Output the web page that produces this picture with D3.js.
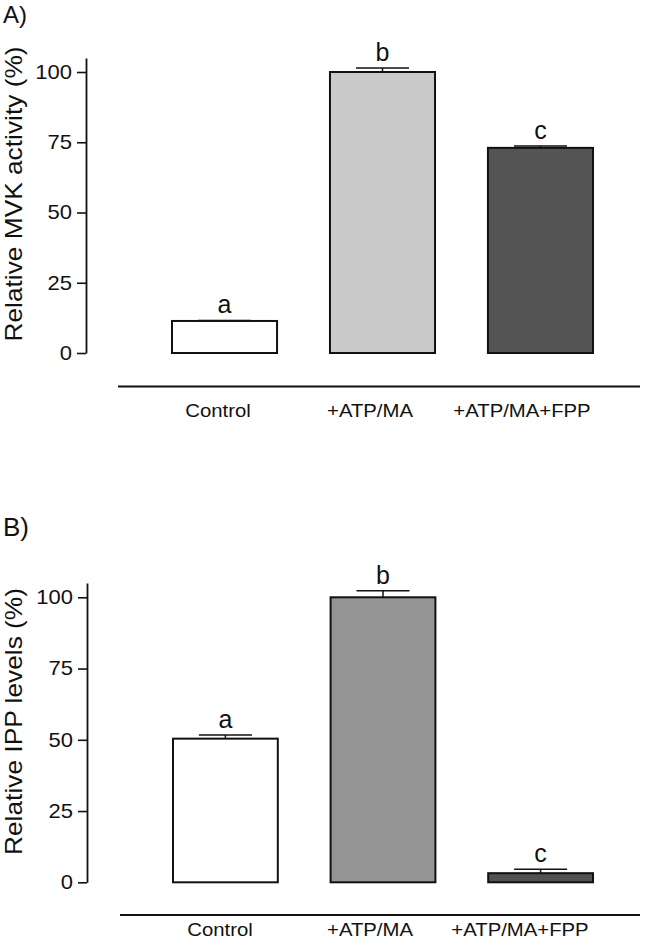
<!DOCTYPE html>
<html>
<head>
<meta charset="utf-8">
<script src="https://cdn.jsdelivr.net/npm/d3@7"></script>
<style>
  html, body { margin: 0; padding: 0; background: #fff; }
  svg { display: block; font-family: "Liberation Sans", Arial, sans-serif; }
</style>
</head>
<body>
<svg id="chart" width="646" height="947"></svg>
<script>
// ---- data ----
const categories = ["Control", "+ATP/MA", "+ATP/MA+FPP"];
const yTicks = [0, 25, 50, 75, 100];

const mvkActivity = [11.4, 100, 73];
const mvkError = [0.2, 1.4, 0.7];
const mvkLetters = ["a", "b", "c"];
const mvkColors = ["#ffffff", "#c9c9c9", "#545454"];

const ippLevels = [50.4, 100, 3.2];
const ippError = [1.3, 2.3, 1.4];
const ippLetters = ["a", "b", "c"];
const ippColors = ["#ffffff", "#959595", "#525252"];

const svg = d3.select("#chart");

function drawPanel(opt) {
  const g = svg.append("g");
  const y = d3.scaleLinear().domain([0, 105]).range([opt.y0, opt.y0 - 105 * opt.pxPerUnit]);
  const x = d3.scaleBand().domain(categories).range([opt.barX0, opt.barX1])
    .paddingInner(0.335).paddingOuter(0);
  const xl = d3.scalePoint().domain(categories).range([opt.labX0, opt.labX1]);

  // panel tag
  g.append("text").attr("x", 3).attr("y", opt.tagY)
    .attr("font-size", opt.tagSize).attr("fill", "#111").text(opt.tag);

  // y axis
  const ax = g.append("g").attr("transform", `translate(${opt.axisX},0)`)
    .call(d3.axisLeft(y).tickValues(yTicks).tickSize(9).tickSizeOuter(0).tickPadding(5));
  ax.select(".domain").attr("stroke", "#111").attr("stroke-width", 1.8);
  ax.selectAll(".tick line").attr("stroke", "#111").attr("stroke-width", 1.6);
  ax.selectAll(".tick text")
    .attr("font-size", 20).attr("fill", "#111")
    .attr("font-family", '"Liberation Sans", Arial, sans-serif')
    .each(function () {
      const t = d3.select(this);
      const xx = +t.attr("x");
      t.attr("x", xx / 1.1).attr("transform", "scale(1.1,1)");
    });

  // y label
  g.append("text")
    .attr("transform", `translate(${opt.ylabX},${opt.ylabY}) rotate(-90)`)
    .attr("text-anchor", "middle").attr("font-size", 24).attr("fill", "#111")
    .attr("textLength", opt.ylabLen).attr("lengthAdjust", "spacingAndGlyphs")
    .text(opt.ylabel);

  const data = categories.map((c, i) => ({
    c, v: opt.values[i], e: opt.errors[i], l: opt.letters[i], col: opt.colors[i]
  }));

  // bars
  g.selectAll("rect.bar").data(data).join("rect").attr("class", "bar")
    .attr("x", d => x(d.c)).attr("width", x.bandwidth())
    .attr("y", d => y(d.v)).attr("height", d => y(0) - y(d.v))
    .attr("fill", d => d.col).attr("stroke", "#111").attr("stroke-width", 2);

  // error bars
  const capW = 53;
  g.selectAll("line.err").data(data).join("line").attr("class", "err")
    .attr("x1", d => x(d.c) + x.bandwidth() / 2).attr("x2", d => x(d.c) + x.bandwidth() / 2)
    .attr("y1", d => y(d.v)).attr("y2", d => y(d.v + d.e))
    .attr("stroke", "#111").attr("stroke-width", 1.5);
  g.selectAll("line.cap").data(data).join("line").attr("class", "cap")
    .attr("x1", d => x(d.c) + x.bandwidth() / 2 - capW / 2)
    .attr("x2", d => x(d.c) + x.bandwidth() / 2 + capW / 2)
    .attr("y1", d => y(d.v + d.e)).attr("y2", d => y(d.v + d.e))
    .attr("stroke", "#111").attr("stroke-width", 1.5);

  // significance letters
  g.selectAll("text.letter").data(data).join("text").attr("class", "letter")
    .attr("x", d => x(d.c) + x.bandwidth() / 2)
    .attr("y", d => y(d.v + d.e) - 7)
    .attr("text-anchor", "middle").attr("font-size", 25).attr("fill", "#111")
    .text(d => d.l);

  // baseline line
  g.append("line").attr("x1", opt.lineX0).attr("x2", 640)
    .attr("y1", opt.lineY).attr("y2", opt.lineY)
    .attr("stroke", "#111").attr("stroke-width", 2);

  // category labels
  g.selectAll("g.cat").data(categories).join("g").attr("class", "cat")
    .attr("transform", d => `translate(${xl(d)},${opt.labY})`)
    .append("text").attr("text-anchor", "middle").attr("font-size", 19)
    .attr("fill", "#111").attr("transform", "scale(1.07,1)")
    .text(d => d);
}

drawPanel({
  tag: "A)", tagY: 23, tagSize: 24,
  y0: 353, pxPerUnit: 2.81, axisX: 86,
  barX0: 172, barX1: 593,
  labX0: 218, labX1: 522, labY: 417,
  lineX0: 118, lineY: 386.5,
  ylabel: "Relative MVK activity (%)", ylabX: 22, ylabY: 194, ylabLen: 295,
  values: mvkActivity, errors: mvkError, letters: mvkLetters, colors: mvkColors
});

drawPanel({
  tag: "B)", tagY: 536, tagSize: 26,
  y0: 882.3, pxPerUnit: 2.85, axisX: 87,
  barX0: 173, barX1: 593,
  labX0: 220, labX1: 520, labY: 936,
  lineX0: 120, lineY: 915,
  ylabel: "Relative IPP levels (%)", ylabX: 22, ylabY: 721.5, ylabLen: 267,
  values: ippLevels, errors: ippError, letters: ippLetters, colors: ippColors
});
</script>
</body>
</html>
